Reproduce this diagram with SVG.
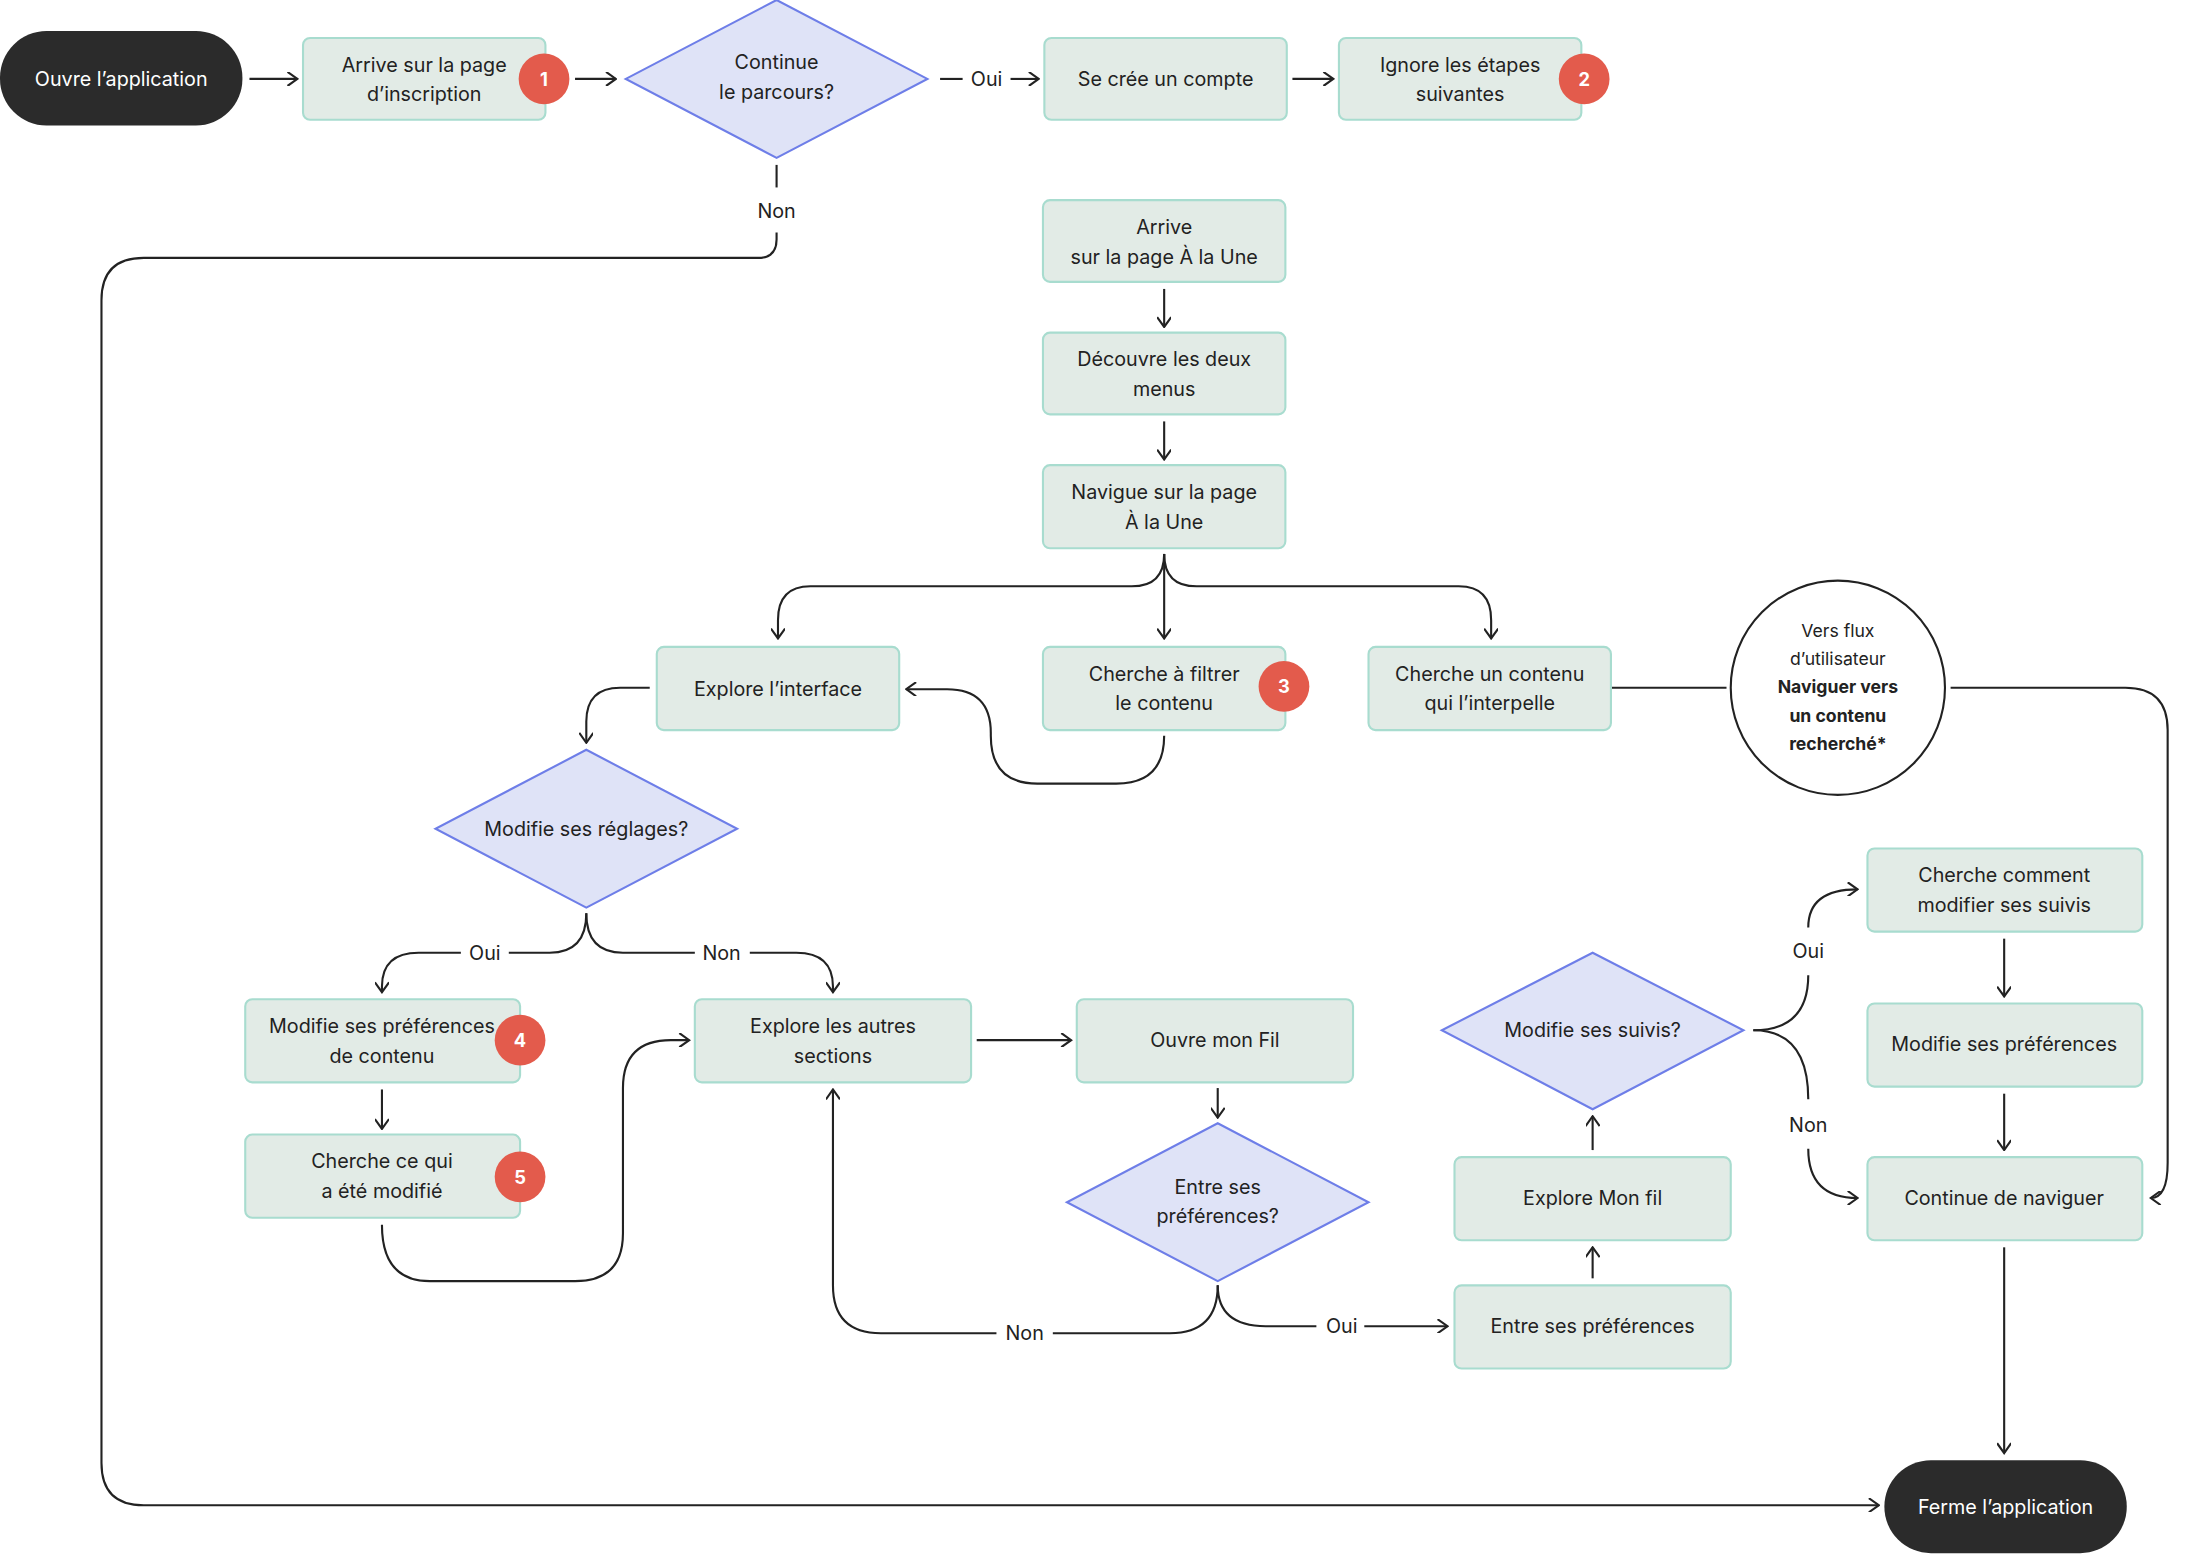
<svg xmlns="http://www.w3.org/2000/svg" width="2210" height="1555" viewBox="0 0 2210 1555">
<style>
.b{fill:#e2ebe6;stroke:#a8dccf;stroke-width:1.5}
.p{fill:#2b2b2b}
.d{fill:#dfe3f7;stroke:#6e7ee8;stroke-width:1.5}
.bd{fill:#e35b4c}
text{font-family:Inter,"Liberation Sans",sans-serif;font-size:14px;fill:#222;text-anchor:middle}
.w{fill:#fff}
.bt{fill:#fff;font-weight:bold;font-size:13px}
.bo{font-weight:bold;font-size:12.5px}
.s{font-size:12.5px}
.c path,.c line{fill:none;stroke:#222;stroke-width:1.5}
</style>
<defs>
<marker id="a" viewBox="0 0 10 10" refX="9" refY="5" markerWidth="10" markerHeight="10" markerUnits="userSpaceOnUse" orient="auto"><path d="M2 0L9 5L2 10" fill="none" stroke="#222" stroke-width="1.5"/></marker>
</defs>
<rect width="2210" height="1555" fill="#fff"/>
<g transform="scale(1.4094)">
<g class="c" marker-end="url(#a)">
<line x1="177" y1="56" x2="211" y2="56"/>
<line x1="408" y1="56" x2="437" y2="56"/>
<line x1="667" y1="56" x2="683" y2="56" marker-end="none"/>
<line x1="717" y1="56" x2="737" y2="56"/>
<line x1="917" y1="56" x2="946" y2="56"/>
<line x1="551" y1="117" x2="551" y2="133" marker-end="none"/>
<path d="M551 165V170Q551 183 538 183H102Q72 183 72 213V1038Q72 1068 102 1068H1333"/>
<line x1="826" y1="205" x2="826" y2="232"/>
<line x1="826" y1="299" x2="826" y2="326"/>
<line x1="826" y1="393" x2="826" y2="453"/>
<path d="M826 393Q826 416 803 416H575Q552 416 552 440V453"/>
<path d="M826 393Q826 416 849 416H1035Q1058 416 1058 440V453"/>
<path d="M826 522Q826 556 792 556H736Q703 556 703 522V520Q703 489 672 489H643"/>
<line x1="1143" y1="488" x2="1225" y2="488" marker-end="none"/>
<path d="M1384 488H1508Q1538 488 1538 518V825Q1538 850 1526 850"/>
<path d="M461 488H440Q416 488 416 512V527"/>
<path d="M416 648Q416 676 390 676H361" marker-end="none"/>
<path d="M327 676H297Q271 676 271 700V704"/>
<path d="M416 648Q416 676 442 676H493" marker-end="none"/>
<path d="M532 676H565Q591 676 591 700V704"/>
<line x1="271" y1="773" x2="271" y2="801"/>
<path d="M271 869Q271 909 305 909H408Q442 909 442 875V772Q442 738 476 738H489"/>
<line x1="693" y1="738" x2="760" y2="738"/>
<line x1="864" y1="772" x2="864" y2="793"/>
<path d="M864 912Q864 946 830 946H747" marker-end="none"/>
<path d="M707 946H625Q591 946 591 912V773"/>
<path d="M864 912Q864 941 898 941H934" marker-end="none"/>
<line x1="968" y1="941" x2="1027" y2="941"/>
<line x1="1130" y1="907" x2="1130" y2="885"/>
<line x1="1130" y1="816" x2="1130" y2="792"/>
<path d="M1244 731Q1283 731 1283 692" marker-end="none"/>
<path d="M1283 658Q1283 631 1318 631"/>
<path d="M1244 731Q1283 731 1283 780" marker-end="none"/>
<path d="M1283 815Q1283 850 1318 850"/>
<line x1="1422" y1="666" x2="1422" y2="707"/>
<line x1="1422" y1="776" x2="1422" y2="816"/>
<line x1="1422" y1="885" x2="1422" y2="1031"/>
</g>
<g id="labels">
<text x="700" y="61">Oui</text>
<text x="551" y="155">Non</text>
<text x="344" y="681">Oui</text>
<text x="512" y="681">Non</text>
<text x="727" y="951">Non</text>
<text x="952" y="946">Oui</text>
<text x="1283" y="680">Oui</text>
<text x="1283" y="803">Non</text>
</g>
<g id="n1"><rect class="p" x="0" y="22" width="172" height="67" rx="33"/><text class="w" x="86" y="61">Ouvre l’application</text></g>
<g id="n2"><rect class="b" x="215" y="27" width="172" height="58" rx="5"/><text x="301" y="51">Arrive sur la page</text><text x="301" y="72">d’inscription</text><circle class="bd" cx="386" cy="56" r="18"/><text class="bt" x="386" y="61">1</text></g>
<g id="n3"><path class="d" d="M551 0L658 56L551 112L444 56Z"/><text x="551" y="49">Continue</text><text x="551" y="70">le parcours?</text></g>
<g id="n4"><rect class="b" x="741" y="27" width="172" height="58" rx="5"/><text x="827" y="61">Se crée un compte</text></g>
<g id="n5"><rect class="b" x="950" y="27" width="172" height="58" rx="5"/><text x="1036" y="51">Ignore les étapes</text><text x="1036" y="72">suivantes</text><circle class="bd" cx="1124" cy="56" r="18"/><text class="bt" x="1124" y="61">2</text></g>
<g id="n6"><rect class="b" x="740" y="142" width="172" height="58" rx="5"/><text x="826" y="166">Arrive</text><text x="826" y="187">sur la page À la Une</text></g>
<g id="n7"><rect class="b" x="740" y="236" width="172" height="58" rx="5"/><text x="826" y="260">Découvre les deux</text><text x="826" y="281">menus</text></g>
<g id="n8"><rect class="b" x="740" y="330" width="172" height="59" rx="5"/><text x="826" y="354">Navigue sur la page</text><text x="826" y="375">À la Une</text></g>
<g id="n9"><rect class="b" x="466" y="459" width="172" height="59" rx="5"/><text x="552" y="494">Explore l’interface</text></g>
<g id="n10"><rect class="b" x="740" y="459" width="172" height="59" rx="5"/><text x="826" y="483">Cherche à filtrer</text><text x="826" y="504">le contenu</text><circle class="bd" cx="911" cy="487" r="18"/><text class="bt" x="911" y="492">3</text></g>
<g id="n11"><rect class="b" x="971" y="459" width="172" height="59" rx="5"/><text x="1057" y="483">Cherche un contenu</text><text x="1057" y="504">qui l’interpelle</text></g>
<g id="n12"><circle cx="1304" cy="488" r="76" fill="#fff" stroke="#222" stroke-width="1.5"/><text class="s" x="1304" y="452">Vers flux</text><text class="s" x="1304" y="472">d’utilisateur</text><text class="bo" x="1304" y="492">Naviguer vers</text><text class="bo" x="1304" y="512">un contenu</text><text class="bo" x="1304" y="532">recherché*</text></g>
<g id="n13"><path class="d" d="M416 532L523 588L416 644L309 588Z"/><text x="416" y="593">Modifie ses réglages?</text></g>
<g id="n14"><rect class="b" x="174" y="709" width="195" height="59" rx="5"/><text x="271" y="733">Modifie ses préférences</text><text x="271" y="754">de contenu</text><circle class="bd" cx="369" cy="738" r="18"/><text class="bt" x="369" y="743">4</text></g>
<g id="n15"><rect class="b" x="174" y="805" width="195" height="59" rx="5"/><text x="271" y="829">Cherche ce qui</text><text x="271" y="850">a été modifié</text><circle class="bd" cx="369" cy="835" r="18"/><text class="bt" x="369" y="840">5</text></g>
<g id="n16"><rect class="b" x="493" y="709" width="196" height="59" rx="5"/><text x="591" y="733">Explore les autres</text><text x="591" y="754">sections</text></g>
<g id="n17"><rect class="b" x="764" y="709" width="196" height="59" rx="5"/><text x="862" y="743">Ouvre mon Fil</text></g>
<g id="n18"><path class="d" d="M864 797L971 853L864 909L757 853Z"/><text x="864" y="847">Entre ses</text><text x="864" y="868">préférences?</text></g>
<g id="n19"><rect class="b" x="1032" y="912" width="196" height="59" rx="5"/><text x="1130" y="946">Entre ses préférences</text></g>
<g id="n20"><rect class="b" x="1032" y="821" width="196" height="59" rx="5"/><text x="1130" y="855">Explore Mon fil</text></g>
<g id="n21"><path class="d" d="M1130 676L1237 731L1130 787L1023 731Z"/><text x="1130" y="736">Modifie ses suivis?</text></g>
<g id="n22"><rect class="b" x="1325" y="602" width="195" height="59" rx="5"/><text x="1422" y="626">Cherche comment</text><text x="1422" y="647">modifier ses suivis</text></g>
<g id="n23"><rect class="b" x="1325" y="712" width="195" height="59" rx="5"/><text x="1422" y="746">Modifie ses préférences</text></g>
<g id="n24"><rect class="b" x="1325" y="821" width="195" height="59" rx="5"/><text x="1422" y="855">Continue de naviguer</text></g>
<g id="n25"><rect class="p" x="1337" y="1036" width="172" height="66" rx="33"/><text class="w" x="1423" y="1074">Ferme l’application</text></g>
</g>
</svg>
